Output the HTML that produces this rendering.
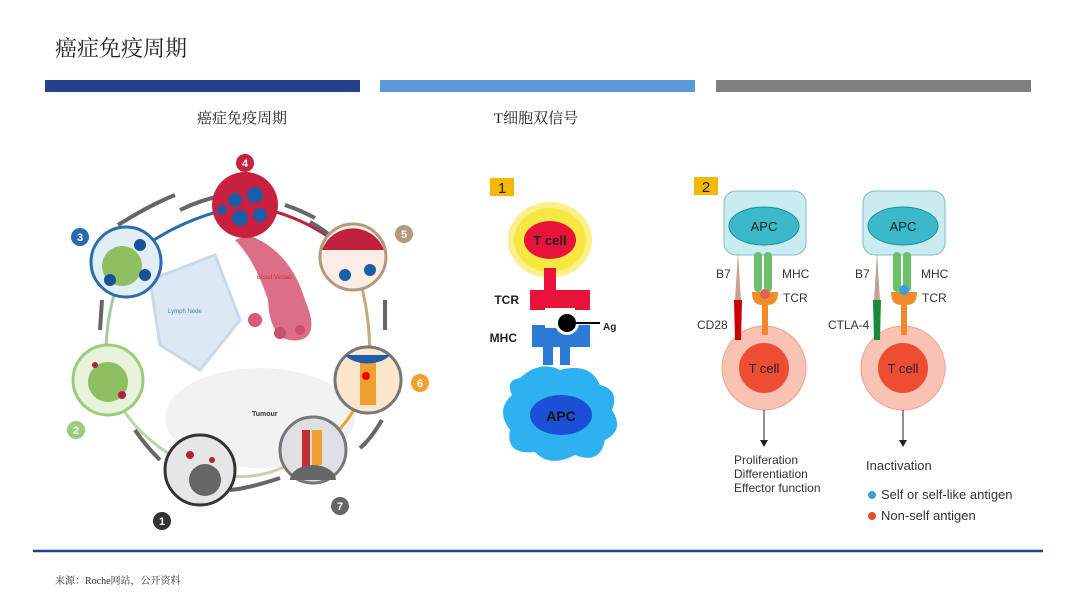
<!DOCTYPE html>
<html><head><meta charset="utf-8"><style>
body{margin:0;background:#fff;}
svg{display:block;font-family:"Liberation Sans","Noto Sans CJK SC",sans-serif;}
.s{font-family:"Liberation Serif","Noto Serif CJK SC",serif;}
</style></head><body>
<svg width="1080" height="608" viewBox="0 0 1080 608">
<text x="55" y="56" font-size="22" class="s" fill="#222">癌症免疫周期</text>
<rect x="45" y="80" width="315" height="12" fill="#24418c"/>
<rect x="380" y="80" width="315" height="12" fill="#5b9bd5"/>
<rect x="716" y="80" width="315" height="12" fill="#7f7f7f"/>
<text x="242" y="123" font-size="15" class="s" text-anchor="middle" fill="#222">癌症免疫周期</text>
<text x="536" y="123" font-size="15" class="s" text-anchor="middle" fill="#222">T细胞双信号</text>
<line x1="33" y1="551" x2="1043" y2="551" stroke="#24418c" stroke-width="2.5"/>
<text x="55" y="584" font-size="10" class="s" fill="#333">来源：Roche网站，公开资料</text>

<!-- cycle -->
<ellipse cx="260" cy="418" rx="95" ry="50" fill="#f2f2f2"/>
<text x="252" y="416" font-size="7" font-weight="bold" fill="#333">Tumour</text>
<path d="M150 280 L215 255 L240 320 L200 370 L160 345Z" fill="#dce8f3" stroke="#c7d9ea" stroke-width="3"/>
<text x="168" y="313" font-size="6" fill="#4a7fb5">Lymph Node</text>
<path d="M248 235 Q290 250 305 300 Q320 335 300 340 Q270 345 268 300 Q255 260 235 240Z" fill="#dc6f87"/>
<circle cx="255" cy="320" r="7" fill="#d45a75"/><circle cx="280" cy="333" r="6" fill="#c9506b"/><circle cx="300" cy="330" r="5" fill="#c9506b"/>
<text x="257" y="279" font-size="6" fill="#c33">Blood Vessel</text>
<g fill="none" stroke-width="3">
<path d="M126 262 Q170 220 245 205" stroke="#2b6bb0"/>
<path d="M245 205 Q310 215 353 257" stroke="#b8253e"/>
<path d="M353 257 Q375 320 368 380" stroke="#c6a882"/>
<path d="M368 380 Q350 430 313 450" stroke="#f0a030"/>
<path d="M313 450 Q260 490 200 470" stroke="#d9c8b2"/>
<path d="M200 470 Q130 440 108 380" stroke="#b8d9a0"/>
<path d="M108 380 Q100 320 126 262" stroke="#a0cca0"/>
</g>
<g fill="none" stroke="#666" stroke-width="4">
<path d="M100 330 L102 300"/><path d="M118 225 Q150 205 175 195"/><path d="M180 210 Q200 200 225 195"/>
<path d="M285 205 Q300 210 315 218"/><path d="M310 222 Q325 230 335 240"/>
<path d="M385 300 L385 330"/><path d="M382 420 Q370 440 360 448"/>
<path d="M280 478 Q250 488 230 490"/><path d="M160 460 Q145 445 135 430"/>
</g>
<g>
<circle cx="245" cy="205" r="33" fill="#c8203e"/><circle cx="235" cy="200" r="7" fill="#1d5ea8"/><circle cx="255" cy="195" r="8" fill="#1d5ea8"/><circle cx="240" cy="218" r="8" fill="#1d5ea8"/><circle cx="260" cy="215" r="7" fill="#1d5ea8"/><circle cx="222" cy="210" r="5" fill="#1d5ea8"/>
<circle cx="353" cy="257" r="33" fill="#fbece6" stroke="#b39a7c" stroke-width="3"/><path d="M322 250 A33 33 0 0 1 384 250Z" fill="#c0203c"/><circle cx="345" cy="275" r="6" fill="#1d5ea8"/><circle cx="370" cy="270" r="6" fill="#1d5ea8"/>
<circle cx="368" cy="380" r="33" fill="#fbe6cc" stroke="#777" stroke-width="3"/><rect x="360" y="360" width="16" height="45" fill="#f0a030"/><circle cx="366" cy="376" r="4" fill="#e00"/><path d="M345 355 A25 15 0 0 0 390 355Z" fill="#1d5ea8"/>
<circle cx="313" cy="450" r="33" fill="#e0e0e4" stroke="#777" stroke-width="3"/><rect x="302" y="430" width="8" height="40" fill="#c0302c"/><rect x="312" y="430" width="10" height="35" fill="#f0a030"/><path d="M290 480 A23 15 0 0 1 336 480Z" fill="#666"/>
<circle cx="200" cy="470" r="35" fill="#e6e6e6" stroke="#333" stroke-width="3"/><circle cx="205" cy="480" r="16" fill="#666"/><circle cx="190" cy="455" r="4" fill="#b02040"/><circle cx="212" cy="460" r="3" fill="#b02040"/>
<circle cx="108" cy="380" r="35" fill="#e8f3dc" stroke="#9ccb7c" stroke-width="3"/><circle cx="108" cy="382" r="20" fill="#8cc060"/><circle cx="95" cy="365" r="3" fill="#b02040"/><circle cx="122" cy="395" r="4" fill="#b02040"/>
<circle cx="126" cy="262" r="35" fill="#e0eef5" stroke="#2b6bb0" stroke-width="3"/><circle cx="122" cy="266" r="20" fill="#8cc060"/><circle cx="140" cy="245" r="6" fill="#1d4f98"/><circle cx="110" cy="280" r="6" fill="#1d4f98"/><circle cx="145" cy="275" r="6" fill="#1d4f98"/>
</g>
<g font-size="11" font-weight="bold" fill="#fff" text-anchor="middle">
<circle cx="245" cy="163" r="9" fill="#c8203e"/><text x="245" y="167">4</text>
<circle cx="404" cy="234" r="9" fill="#b39a7c"/><text x="404" y="238">5</text>
<circle cx="420" cy="383" r="9" fill="#f0a030"/><text x="420" y="387">6</text>
<circle cx="340" cy="506" r="9" fill="#666"/><text x="340" y="510">7</text>
<circle cx="162" cy="521" r="9" fill="#333"/><text x="162" y="525">1</text>
<circle cx="76" cy="430" r="9" fill="#9ccb7c"/><text x="76" y="434">2</text>
<circle cx="80" cy="237" r="9" fill="#2b6bb0"/><text x="80" y="241">3</text>
</g>

<!-- panel 1 -->
<rect x="490" y="178" width="24" height="18" fill="#f5b800"/><text x="502" y="193" font-size="15" text-anchor="middle" fill="#222">1</text>
<ellipse cx="550" cy="240" rx="42" ry="38" fill="#fcf08a"/><ellipse cx="550" cy="240" rx="36" ry="32" fill="#f5e840"/>
<ellipse cx="550" cy="240" rx="26" ry="19" fill="#e8123a"/><text x="550" y="245" font-size="13" font-weight="bold" text-anchor="middle" fill="#222">T cell</text>
<rect x="544" y="268" width="12" height="24" fill="#e8123a"/><rect x="530" y="290" width="60" height="20" fill="#e8123a"/><rect x="545" y="308" width="30" height="6" fill="#fff"/>
<rect x="532" y="325" width="58" height="22" fill="#2a7ad6"/><rect x="545" y="318" width="30" height="10" fill="#fff"/>
<rect x="543" y="345" width="10" height="20" fill="#2a7ad6"/><rect x="560" y="345" width="10" height="20" fill="#2a7ad6"/>
<circle cx="567" cy="323" r="12" fill="#fff"/><circle cx="567" cy="323" r="9" fill="#000"/><line x1="576" y1="323" x2="600" y2="323" stroke="#000" stroke-width="2"/>
<text x="519" y="304" font-size="12" font-weight="bold" text-anchor="end" fill="#222">TCR</text>
<text x="517" y="342" font-size="12" font-weight="bold" text-anchor="end" fill="#222">MHC</text>
<text x="603" y="330" font-size="10" font-weight="bold" fill="#222">Ag</text>
<path d="M520 378 Q540 360 560 370 Q590 362 600 385 Q620 390 612 410 Q625 430 605 440 Q600 465 575 455 Q550 468 535 452 Q505 455 510 430 Q495 410 512 395 Q505 380 520 378Z" fill="#2eb1f0"/>
<ellipse cx="561" cy="415" rx="31" ry="20" fill="#1a4fd6"/><text x="561" y="421" font-size="14" font-weight="bold" text-anchor="middle" fill="#111">APC</text>

<!-- panel 2 -->
<rect x="694" y="177" width="24" height="18" fill="#f5b800"/><text x="706" y="192" font-size="15" text-anchor="middle" fill="#222">2</text>
<g id="p2">
<rect x="724" y="191" width="82" height="64" rx="12" fill="#c8ecef" stroke="#7fbcc7"/>
<ellipse cx="764" cy="226" rx="35" ry="19" fill="#3bb8c9" stroke="#1c8fa0"/>
<text x="764" y="231" font-size="13" text-anchor="middle" fill="#222">APC</text>
<circle cx="764" cy="368" r="42" fill="#f9c2b3" stroke="#f0a090"/>
<circle cx="764" cy="368" r="25" fill="#ee4d34"/>
<text x="764" y="373" font-size="13" text-anchor="middle" fill="#222">T cell</text>
<rect x="754" y="252" width="8" height="40" rx="4" fill="#6cc06a"/><rect x="764" y="252" width="8" height="40" rx="4" fill="#6cc06a"/>
<path d="M752 292 Q752 305 762 305 L762 335 L768 335 L768 305 Q778 305 778 292" fill="#f08a2a"/>
<path d="M738 252 L741 300 L735 300Z" fill="#c9a090"/>
<line x1="764" y1="410" x2="764" y2="442" stroke="#222"/><path d="M760 440 L764 447 L768 440Z" fill="#222"/>
</g>
<circle cx="765" cy="294" r="5" fill="#e26050"/>
<path d="M734 300 L742 300 L741 340 L735 340Z" fill="#c00"/>
<use href="#p2" x="139"/>
<circle cx="904" cy="290" r="5" fill="#3aa0d8"/>
<path d="M873 300 L881 300 L880 340 L874 340Z" fill="#1a8a3a"/>
<g font-size="12" fill="#333">
<text x="716" y="278">B7</text><text x="782" y="278">MHC</text><text x="783" y="302">TCR</text><text x="697" y="329">CD28</text>
<text x="855" y="278">B7</text><text x="921" y="278">MHC</text><text x="922" y="302">TCR</text><text x="828" y="329">CTLA-4</text>
<text x="734" y="464">Proliferation</text><text x="734" y="478">Differentiation</text><text x="734" y="492">Effector function</text>
<text x="866" y="470" font-size="13">Inactivation</text>
<text x="881" y="499" font-size="13">Self or self-like antigen</text>
<text x="881" y="520" font-size="13">Non-self antigen</text>
</g>
<circle cx="872" cy="495" r="4" fill="#3aa0d8"/><circle cx="872" cy="516" r="4" fill="#e05020"/>
</svg>
</body></html>
